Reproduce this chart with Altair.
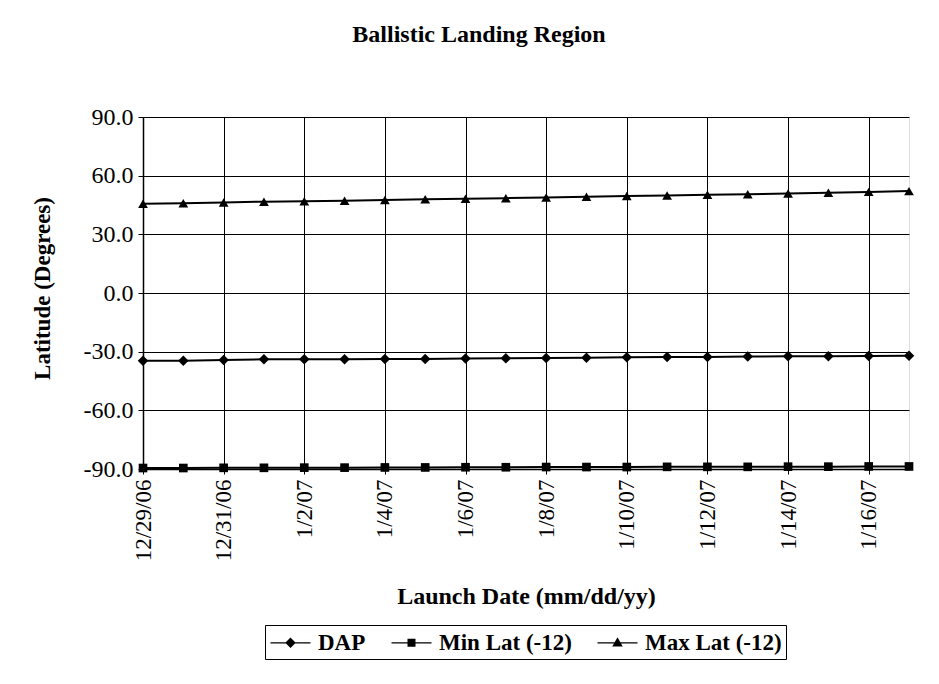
import altair as alt
import pandas as pd

dates = ["12/29/06", "12/30/06", "12/31/06", "1/1/07", "1/2/07", "1/3/07", "1/4/07",
         "1/5/07", "1/6/07", "1/7/07", "1/8/07", "1/9/07", "1/10/07", "1/11/07",
         "1/12/07", "1/13/07", "1/14/07", "1/15/07", "1/16/07", "1/17/07"]
dap = [-34.6, -34.6, -34.3, -33.9, -33.9, -33.9, -33.7, -33.7, -33.5, -33.4,
       -33.2, -33.1, -32.9, -32.7, -32.7, -32.5, -32.4, -32.3, -32.2, -32.1]
min_lat = [-89.5, -89.5, -89.4, -89.4, -89.3, -89.3, -89.2, -89.2, -89.1, -89.1,
           -89.0, -89.0, -89.0, -88.9, -88.9, -88.9, -88.8, -88.8, -88.7, -88.7]
max_lat = [45.6, 45.9, 46.3, 46.7, 46.9, 47.2, 47.6, 47.9, 48.2, 48.5,
           48.8, 49.2, 49.6, 49.9, 50.2, 50.5, 50.9, 51.3, 51.7, 52.1]
series_names = ["DAP", "Min Lat (-12)", "Max Lat (-12)"]
y_ticks = [-90, -60, -30, 0, 30, 60, 90]

rows = []
for i, d in enumerate(dates):
    rows.append({"day": i, "date": d, "series": series_names[0], "value": dap[i]})
    rows.append({"day": i, "date": d, "series": series_names[1], "value": min_lat[i]})
    rows.append({"day": i, "date": d, "series": series_names[2], "value": max_lat[i]})
df = pd.DataFrame(rows)

label_js = "[" + ",".join("'" + d + "'" for d in dates) + "][datum.value]"
FONT = "Liberation Serif"

x_enc = alt.X("day:Q",
              scale=alt.Scale(domain=[0, len(dates) - 1], nice=False, zero=False),
              axis=alt.Axis(values=list(range(0, len(dates), 2)), labelExpr=label_js,
                            labelAngle=270, labelFontSize=23, labelFont=FONT,
                            labelColor="black", labelPadding=5, tickSize=5,
                            tickColor="black", domainColor="black", domainWidth=1.5,
                            gridColor="black", gridWidth=1, gridOpacity=1,
                            title="Launch Date (mm/dd/yy)", titleFont=FONT,
                            titleFontSize=24, titleFontWeight="bold", titleColor="black",
                            titleX=383, titleY=134, titleBaseline="alphabetic",
                            titleAlign="center"))
y_enc = alt.Y("value:Q",
              scale=alt.Scale(domain=[-90, 90], nice=False),
              axis=alt.Axis(values=y_ticks,
                            labelExpr="(datum.value < 0 ? '-' : '') + format(abs(datum.value), '.1f')",
                            labelFontSize=24, labelFont=FONT, labelColor="black",
                            labelPadding=5, tickSize=5, tickColor="black",
                            domainColor="black", domainWidth=1.5, gridColor="black",
                            gridWidth=1, gridOpacity=1, title="Latitude (Degrees)",
                            titleFont=FONT, titleFontSize=23, titleFontWeight="bold",
                            titleColor="black", titleX=-101, titleY=171,
                            titleBaseline="middle", titleAlign="center", titleAngle=270))

base = alt.Chart(df)
lines = base.mark_line(color="black", strokeWidth=2).encode(
    x=x_enc, y=y_enc, detail="series:N")

shapes = {"DAP": "diamond", "Min Lat (-12)": "square", "Max Lat (-12)": "triangle-up"}
sizes = {"DAP": 110, "Min Lat (-12)": 75, "Max Lat (-12)": 95}
point_layers = []
for s in series_names:
    point_layers.append(
        base.transform_filter(alt.datum.series == s)
        .mark_point(shape=shapes[s], filled=True, color="black", opacity=1, size=sizes[s])
        .encode(x="day:Q", y="value:Q"))

BAR = "M-1.6,-0.05L1.6,-0.05L1.6,0.05L-1.6,0.05Z"
legend_paths = [
    BAR + "M0,-0.42L0.42,0L0,0.42L-0.42,0Z",
    BAR + "M-0.32,-0.32L0.32,-0.32L0.32,0.32L-0.32,0.32Z",
    BAR + "M0,-0.44L0.42,0.3L-0.42,0.3Z",
]
legend_layer = base.transform_filter("false").mark_point(
    filled=True, color="black", opacity=1
).encode(
    x="day:Q", y="value:Q",
    shape=alt.Shape("series:N",
                    scale=alt.Scale(domain=series_names, range=legend_paths),
                    legend=alt.Legend(title=None, orient="none", legendX=122,
                                      legendY=508, direction="horizontal",
                                      strokeColor="black", padding=4,
                                      labelFont=FONT, labelFontSize=23,
                                      labelFontWeight="bold", labelColor="black",
                                      symbolSize=625, symbolFillColor="black",
                                      symbolOpacity=1, symbolOffset=8,
                                      columnPadding=22, labelOffset=14)))

chart = alt.layer(lines, *point_layers, legend_layer).properties(
    width=766, height=352,
    title=alt.TitleParams("Ballistic Landing Region", font=FONT, fontSize=24,
                          fontWeight="bold", color="black", anchor="middle",
                          offset=58, dx=-47),
    autosize=alt.AutoSizeParams(type="none"),
    padding={"left": 135, "top": 109, "right": 22, "bottom": 207},
).configure_view(stroke="black", strokeWidth=1.5).configure(background="white")

chart.save("out.html", embed_options={"renderer": "svg", "actions": False})
